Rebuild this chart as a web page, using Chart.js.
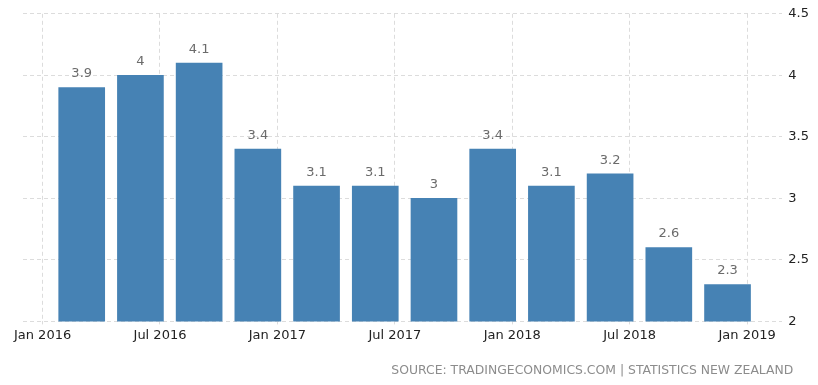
<!DOCTYPE html>
<html>
<head>
<meta charset="utf-8">
<script src="https://cdn.jsdelivr.net/npm/chart.js@4/dist/chart.umd.min.js"></script>
<style>
  html, body { margin: 0; padding: 0; background: #fff; }
  #wrap { width: 818px; height: 385px; }
</style>
</head>
<body>
<div id="wrap"><canvas id="chart"></canvas></div>
<script>
// ===================== data =====================
// months counted from Jan 2016 (0 = Jan 2016)
const barMonths = [2, 5, 8, 11, 14, 17, 20, 23, 26, 29, 32, 35];
const rates = [3.9, 4, 4.1, 3.4, 3.1, 3.1, 3, 3.4, 3.1, 3.2, 2.6, 2.3];
const tickMonths = [0, 6, 12, 18, 24, 30, 36];
const tickLabels = ['Jan 2016', 'Jul 2016', 'Jan 2017', 'Jul 2017', 'Jan 2018', 'Jul 2018', 'Jan 2019'];
const sourceText = 'SOURCE: TRADINGECONOMICS.COM | STATISTICS NEW ZEALAND';

const FONT = '"DejaVu Sans", Verdana, sans-serif';
const gridColor = '#dcdcdc';

// value labels above the bars + source line
const valueLabels = {
  id: 'valueLabels',
  afterDatasetsDraw(chart) {
    const ctx = chart.ctx;
    const meta = chart.getDatasetMeta(0);
    ctx.save();
    ctx.font = '13px ' + FONT;
    ctx.fillStyle = '#6b6b6b';
    ctx.textAlign = 'center';
    ctx.textBaseline = 'bottom';
    meta.data.forEach((bar, i) => {
      ctx.fillText(String(rates[i]), bar.x, bar.y - 7);
    });
    // source
    ctx.font = '12.4px ' + FONT;
    ctx.fillStyle = '#8c8c8c';
    ctx.textAlign = 'right';
    ctx.textBaseline = 'middle';
    ctx.fillText(sourceText, chart.chartArea.right + 11, chart.chartArea.bottom + 49);
    ctx.restore();
  }
};

const ctx = document.getElementById('chart').getContext('2d');
const chart = new Chart(ctx, {
  type: 'bar',
  data: {
    datasets: [{
      data: barMonths.map((m, i) => ({ x: m, y: rates[i] })),
      backgroundColor: '#4682b4',
      borderWidth: 0,
      barThickness: 46
    }]
  },
  options: {
    responsive: true,
    maintainAspectRatio: false,
    animation: false,
    layout: { padding: { left: 23, right: 3, top: 13, bottom: 39 } },
    plugins: {
      legend: { display: false },
      tooltip: { enabled: false }
    },
    scales: {
      x: {
        type: 'linear',
        offset: false,
        min: -1,
        max: 37.8,
        afterBuildTicks: scale => {
          scale.ticks = tickMonths.map(v => ({ value: v }));
        },
        grid: { color: gridColor, offset: false, drawTicks: true, tickLength: 3 },
        border: { display: false, dash: [4, 3] },
        ticks: {
          color: '#222',
          font: { family: FONT, size: 13 },
          padding: 3,
          maxRotation: 0,
          callback: (v) => tickLabels[tickMonths.indexOf(v)]
        }
      },
      y: {
        position: 'right',
        min: 2,
        max: 4.5,
        grid: { color: gridColor, drawTicks: false },
        border: { display: false, dash: [4, 3] },
        ticks: {
          stepSize: 0.5,
          color: '#222',
          font: { family: FONT, size: 13 },
          padding: 6,
          callback: (v) => String(v)
        }
      }
    }
  },
  plugins: [valueLabels]
});
</script>
</body>
</html>
